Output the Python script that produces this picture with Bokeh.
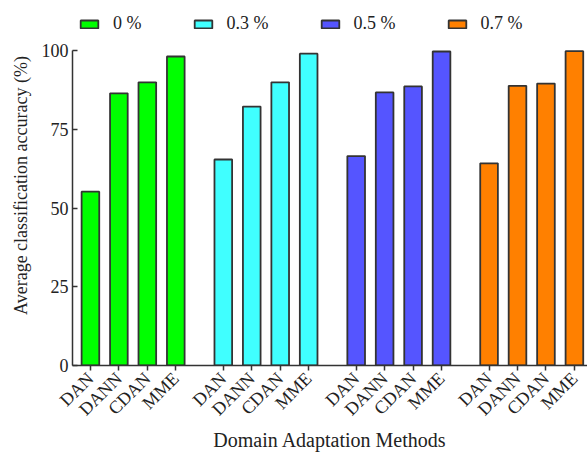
import math
from bokeh.plotting import figure
from bokeh.models import Range1d, FixedTicker, Legend, LegendItem, ColumnDataSource
from bokeh.embed import file_html
from bokeh.resources import INLINE

methods = ["DAN", "DANN", "CDAN", "MME"]
ratios = ["0 %", "0.3 %", "0.5 %", "0.7 %"]
acc_0 = [55.2, 86.4, 89.9, 98.1]
acc_03 = [65.4, 82.2, 89.9, 99.0]
acc_05 = [66.5, 86.7, 88.6, 99.7]
acc_07 = [64.2, 88.8, 89.5, 99.8]
series = [acc_0, acc_03, acc_05, acc_07]
colors = ["#00FF00", "#40FFFF", "#5555FF", "#FF8000"]
y_ticks = [0, 25, 50, 75, 100]

group_step = 4.67
FONT = "Liberation Serif"

# frame extends up to the top so the legend (drawn inside the frame) fits above the bars
p = figure(width=587, height=454, output_backend="svg", toolbar_location=None,
           x_range=Range1d(-0.63, 17.47), y_range=Range1d(0, 114.3),
           min_border_left=72, min_border_right=0, min_border_bottom=89, min_border_top=5)
p.outline_line_color = None
p.xgrid.visible = False
p.ygrid.visible = False

ticks = []
overrides = {}
items = []
for g, vals in enumerate(series):
    xs = [round(g * group_step + m, 2) for m in range(len(methods))]
    src = ColumnDataSource(dict(x=xs, top=vals))
    r = p.vbar(x="x", top="top", width=0.62, bottom=0, source=src,
               fill_color=colors[g], line_color="#333333", line_width=1.8)
    items.append(LegendItem(label=ratios[g], renderers=[r]))
    for x, m in zip(xs, methods):
        ticks.append(x)
        overrides[x] = m

p.xaxis.ticker = FixedTicker(ticks=ticks)
p.xaxis.major_label_overrides = overrides
p.xaxis.major_label_orientation = math.pi / 4
p.xaxis.minor_tick_line_color = None
p.xaxis.major_tick_in = 0
p.xaxis.major_tick_out = 5
p.xaxis.axis_label = "Domain Adaptation Methods"

p.yaxis.ticker = FixedTicker(ticks=y_ticks)
p.yaxis.bounds = (0, 100)
p.yaxis.minor_tick_line_color = None
p.yaxis.major_tick_in = 5
p.yaxis.major_tick_out = 0
p.yaxis.axis_label = "Average classification accuracy (%)"

for ax in [p.xaxis[0], p.yaxis[0]]:
    ax.axis_line_color = "#333333"
    ax.axis_line_width = 1.5
    ax.major_tick_line_color = "#333333"
    ax.major_tick_line_width = 1.5
    ax.major_label_text_font = FONT
    ax.major_label_text_font_size = "18px"
    ax.major_label_text_color = "#222222"
    ax.axis_label_text_font = FONT
    ax.axis_label_text_font_style = "normal"
    ax.axis_label_text_color = "#222222"

p.xaxis.axis_label_text_font_size = "20px"
p.yaxis.axis_label_text_font_size = "18px"
p.xaxis.major_label_standoff = 5
p.xaxis.axis_label_standoff = 0
p.yaxis.major_label_standoff = 4
p.yaxis.axis_label_standoff = 8

legend = Legend(items=items, orientation="horizontal", location=(6, 331),
                glyph_width=22, glyph_height=10, label_standoff=13,
                label_width=20, spacing=50, padding=0, margin=0,
                label_text_font=FONT, label_text_font_size="18px",
                label_text_color="#222222", border_line_color=None,
                background_fill_alpha=0)
p.add_layout(legend, "center")

open("out.html", "w").write(file_html(p, INLINE))
